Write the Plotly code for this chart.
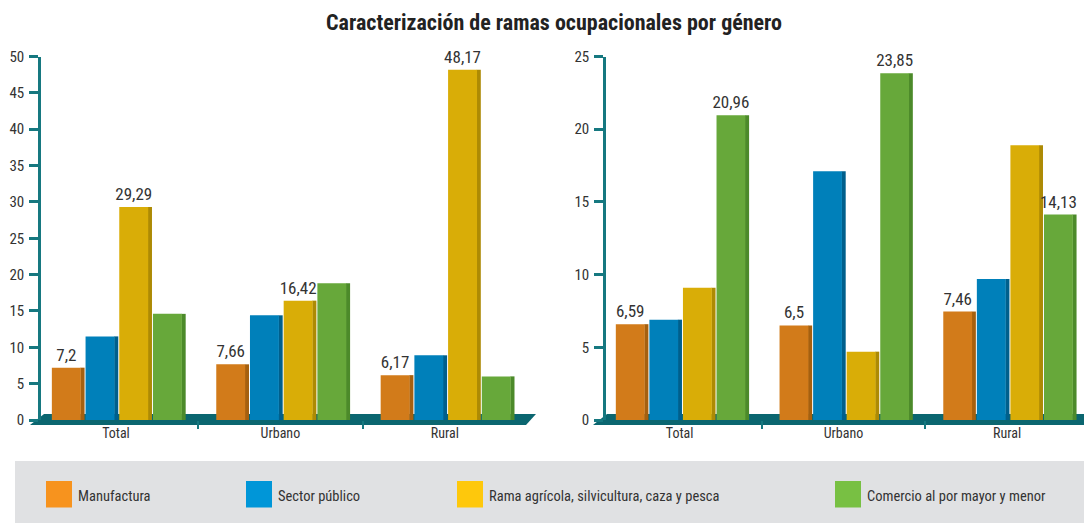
import plotly.graph_objects as go

W, H = 1092, 523
OX, OY = 8, 8  # page body margin offset

categories = ["Total", "Urbano", "Rural"]
series_names = ["Manufactura", "Sector público",
                "Rama agrícola, silvicultura, caza y pesca",
                "Comercio al por mayor y menor"]

# Left chart values
left_manufactura = [7.2, 7.66, 6.17]
left_sector_publico = [11.5, 14.4, 8.9]
left_rama_agricola = [29.29, 16.42, 48.17]
left_comercio = [14.6, 18.8, 6.0]

# Right chart values
right_manufactura = [6.59, 6.5, 7.46]
right_sector_publico = [6.9, 17.1, 9.7]
right_rama_agricola = [9.1, 4.7, 18.9]
right_comercio = [20.96, 23.85, 14.13]

# Which bars carry a value label
left_label_series = ["Manufactura", "Rama agrícola, silvicultura, caza y pesca"]
right_label_series = ["Manufactura", "Comercio al por mayor y menor"]

left_ticks = [0, 5, 10, 15, 20, 25, 30, 35, 40, 45, 50]
right_ticks = [0, 5, 10, 15, 20, 25]

bar_colors = ["#d27b1a", "#0080ba", "#d9ad07", "#67a83a"]
side_colors = ["#a5600f", "#005f8c", "#ad8a04", "#4c8a2a"]
legend_colors = ["#f7931e", "#0096d8", "#fec80c", "#78c043"]
TEAL = "#167880"
FONT = "Roboto Condensed, Liberation Sans Narrow, Liberation Sans, Arial, sans-serif"

BAR_W = 0.176
SIDE_W = 0.025
OFFSETS = [-0.39, -0.185, 0.02, 0.225]


def fmt(v):
    return f"{v:g}".replace(".", ",")


def px(x):
    return (x - OX) / W


def py(y):
    return (H - (y - OY)) / H


fig = go.Figure()

left_data = [left_manufactura, left_sector_publico, left_rama_agricola, left_comercio]
right_data = [right_manufactura, right_sector_publico, right_rama_agricola, right_comercio]

for data, labels, xa, ya in [(left_data, left_label_series, "x", "y"),
                             (right_data, right_label_series, "x2", "y2")]:
    for name, vals, col, scol, off in zip(series_names, data, bar_colors, side_colors, OFFSETS):
        n = len(vals)
        # darker side face (3D look)
        fig.add_trace(go.Bar(
            x=categories, y=vals, name=name, xaxis=xa, yaxis=ya,
            width=[SIDE_W] * n, offset=[off + BAR_W - 0.002] * n,
            marker=dict(color=scol, line=dict(width=0)),
            showlegend=False, hoverinfo="skip",
        ))
        txt = [fmt(v) if name in labels else "" for v in vals]
        fig.add_trace(go.Bar(
            x=categories, y=vals, name=name, xaxis=xa, yaxis=ya,
            width=[BAR_W] * n, offset=[off] * n,
            marker=dict(color=col, line=dict(width=0)),
            text=txt, textposition="outside", cliponaxis=False, constraintext="none",
            textfont=dict(family=FONT, size=17, color="#333333"),
            showlegend=False, hoverinfo="x+y",
        ))

ydom = [py(420), py(56.5)]
yax_common = dict(
    showgrid=False, zeroline=False, showline=True, linecolor=TEAL, linewidth=2.5,
    ticks="outside", ticklen=9, tickwidth=2.5, tickcolor=TEAL, ticklabelstandoff=2,
    tickfont=dict(family=FONT, size=15, color="#333333"), domain=ydom, automargin=False,
)
xax_common = dict(
    showgrid=False, zeroline=False, showline=False, ticks="outside",
    tickson="boundaries", ticklen=8, tickwidth=1.5, tickcolor=TEAL,
    ticklabelstandoff=3, automargin=False,
    tickfont=dict(family=FONT, size=14, color="#333333"),
)

fig.update_layout(
    width=W, height=H, margin=dict(l=0, r=0, t=0, b=0, pad=0),
    showlegend=False,
    paper_bgcolor="white", plot_bgcolor="rgba(0,0,0,0)",
    barmode="overlay",
    font=dict(family=FONT, color="#333333"),
    title=dict(text="<b>Caracterización de ramas ocupacionales por género</b>",
               x=px(554), xanchor="center", y=py(22), yanchor="middle",
               font=dict(family=FONT, size=22, color="#222222")),
    xaxis=dict(domain=[px(41), px(527)], range=[-0.456, 2.5], anchor="y", **xax_common),
    yaxis=dict(range=[0, 50], tickvals=left_ticks, anchor="x", **yax_common),
    xaxis2=dict(domain=[px(606), px(1089)], range=[-0.45, 2.5], anchor="y2", **xax_common),
    yaxis2=dict(range=[0, 25], tickvals=right_ticks, anchor="x2", **yax_common),
)

shapes = []
# 3D floors
for (tl, tr, br, bl) in [((44, 414), (536, 414), (526, 425), (30, 425)),
                         ((607, 414), (1110, 414), (1110, 425), (593, 425))]:
    path = "M{},{} L{},{} L{},{} L{},{} Z".format(
        px(tl[0]), py(tl[1]), px(tr[0]), py(tr[1]), px(br[0]), py(br[1]), px(bl[0]), py(bl[1]))
    shapes.append(dict(type="path", xref="paper", yref="paper", path=path,
                       fillcolor="#0b6670", line=dict(width=0), layer="below"))

# legend panel
shapes.append(dict(type="rect", xref="paper", yref="paper",
                   x0=px(15), x1=px(1110), y0=py(461), y1=py(540),
                   fillcolor="#e0e1e3", line=dict(width=0), layer="below"))

legend_x = [46, 246, 457, 835]
annotations = []
for name, col, lx in zip(series_names, legend_colors, legend_x):
    shapes.append(dict(type="rect", xref="paper", yref="paper",
                       x0=px(lx), x1=px(lx + 26), y0=py(507.5), y1=py(481),
                       fillcolor=col, line=dict(width=0)))
    annotations.append(dict(text=name, xref="paper", yref="paper",
                            x=px(lx + 30), y=py(496), xanchor="left", yanchor="middle",
                            showarrow=False,
                            font=dict(family=FONT, size=14.5, color="#333333")))

fig.update_layout(shapes=shapes, annotations=annotations)

fig.write_html("out.html")
